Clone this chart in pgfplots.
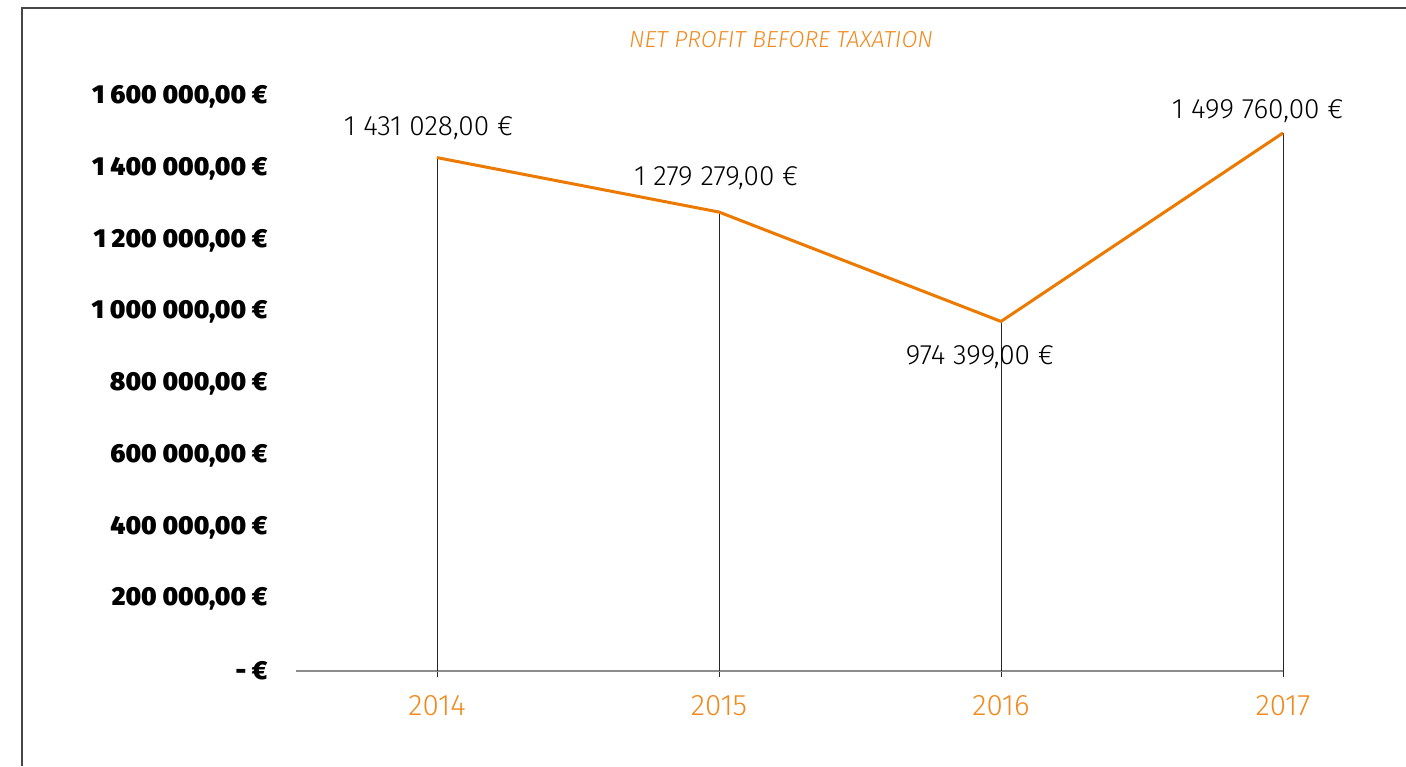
\documentclass[border=0pt]{standalone}
\usepackage{pgfplots}
\pgfplotsset{compat=1.18}
\usepackage{fontspec}
\setmainfont{Fira Sans}
\newfontfamily\lightfont{Fira Sans Light}
\newfontfamily\heavyfont{Fira Sans Black}
\definecolor{lineorange}{RGB}{236,122,0}
\definecolor{textorange}{RGB}{240,138,30}
\pgfplotsset{lbl/.style={draw=none, mark=none, point meta=explicit symbolic, nodes near coords,
  nodes near coords style={text=black, font=\lightfont\fontsize{14}{16}\selectfont}}}
\begin{document}
\begin{tikzpicture}
\useasboundingbox (0,0) rectangle (703pt,383pt);
\draw[black!72, line width=0.9pt] (11pt,0) -- (11pt,379pt) -- (703pt,379pt);
\node[text=textorange, font=\lightfont\itshape\fontsize{11.6}{14}\selectfont] at (390.5pt,363pt) {NET PROFIT BEFORE TAXATION};
\begin{axis}[
  at={(148pt,47.5pt)}, anchor=south west,
  width=493.5pt, height=287pt, scale only axis,
  xmin=-0.5, xmax=3, ymin=0, ymax=1600000,
  axis x line*=bottom, axis y line*=left,
  x axis line style={draw=black!45, line width=1pt},
  y axis line style={draw=none},
  xtick={0,1,2,3}, xticklabels={2014,2015,2016,2017},
  xtick style={draw=black!85, line width=0.5pt},
  tick align=outside, major tick length=3pt,
  xticklabel style={text=textorange, font=\lightfont\fontsize{14.8}{17}\selectfont, anchor=north, inner sep=0pt, yshift=-9pt},
  ytick={0,200000,400000,600000,800000,1000000,1200000,1400000,1600000},
  scaled y ticks=false,
  yticklabels={{- €},{200 000,00 €},{400 000,00 €},{600 000,00 €},{800 000,00 €},{1 000 000,00 €},{1 200 000,00 €},{1 400 000,00 €},{1 600 000,00 €}},
  ytick style={draw=none},
  yticklabel style={font=\heavyfont\fontsize{13}{15}\selectfont, anchor=east, inner sep=0pt, xshift=-11pt},
  clip=false,
]
\addplot[ycomb, draw=black!85, line width=0.5pt, mark=none] coordinates {(0,1431028) (1,1279279) (2,974399) (3,1499760)};
\addplot[lineorange, line width=1.5pt, mark=none] coordinates {(0,1431028) (1,1279279) (2,974399) (3,1499760)};
\addplot[lbl, nodes near coords align={anchor=south}, nodes near coords style={yshift=5.5pt}]
  coordinates {(-0.03,1431028) [1 431 028,00 €]};
\addplot[lbl, nodes near coords align={anchor=south}, nodes near coords style={yshift=7.5pt}]
  coordinates {(0.99,1279279) [1 279 279,00 €]};
\addplot[lbl, nodes near coords align={anchor=south}, nodes near coords style={yshift=1.5pt}]
  coordinates {(2.91,1499760) [1 499 760,00 €]};
\addplot[lbl, nodes near coords align={anchor=north}, nodes near coords style={yshift=-8.5pt}]
  coordinates {(1.925,974399) [974 399,00 €]};
\end{axis}
\end{tikzpicture}
\end{document}
